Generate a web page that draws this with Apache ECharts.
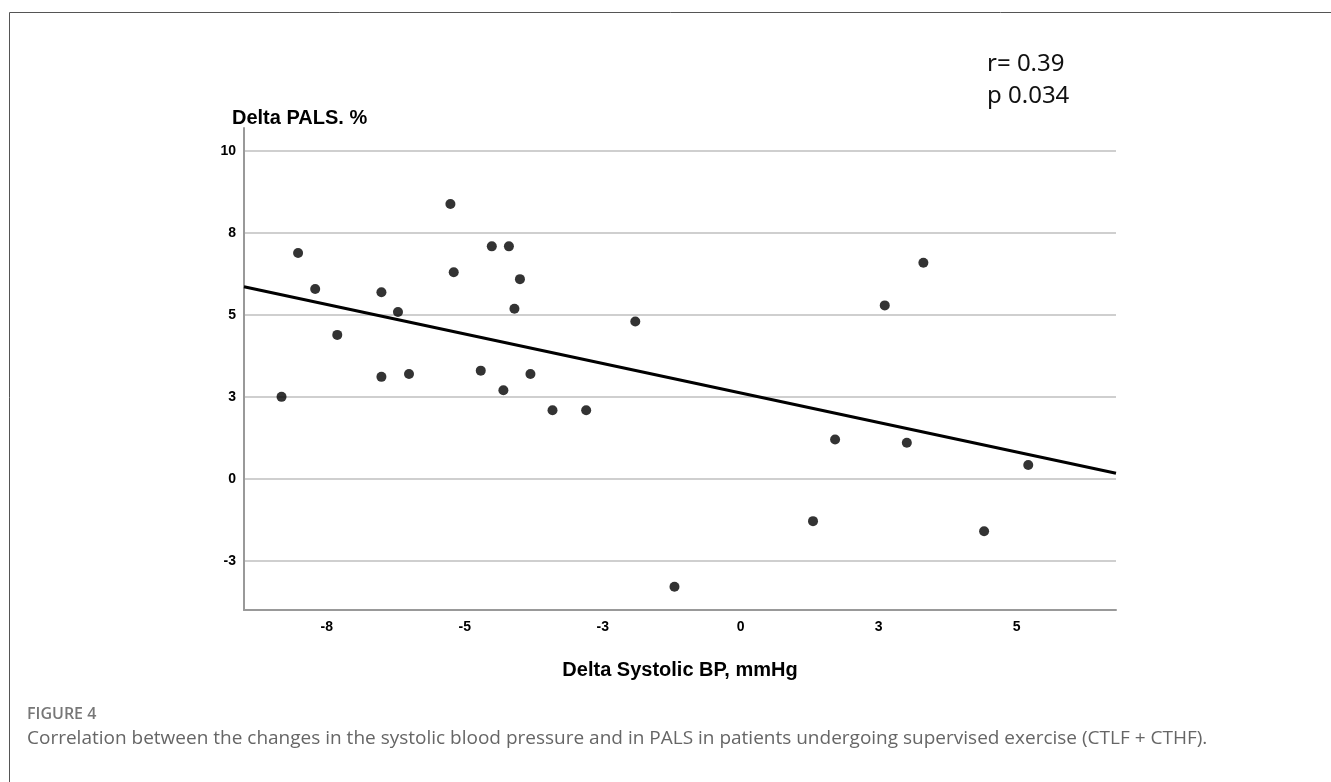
<!DOCTYPE html>
<html>
<head>
<meta charset="utf-8">
<script src="https://cdn.jsdelivr.net/npm/echarts@6/dist/echarts.min.js"></script>
<style>
  html, body { margin: 0; padding: 0; background: #fff; }
  #chart { width: 1331px; height: 782px; }
</style>
</head>
<body>
<div id="chart"></div>
<script>
// delta systolic BP (mmHg) vs delta PALS (%)
const systolicDelta = [-8.02, -7.71, -7.31, -6.51, -6.21, -5.26, -5.20, -4.51, -4.20, -4.00, -4.10, -1.91,
    -8.32, -6.51, -6.01, -4.71, -4.30, -3.81, -3.41, -2.80, -1.20,
    3.31, 2.61, 1.71, 3.01, 5.21, 1.31, 4.41];
const palsDelta = [6.89, 5.79, 4.39, 5.69, 5.09, 8.38, 6.30, 7.09, 7.09, 6.09, 5.19, 4.80,
    2.50, 3.11, 3.20, 3.30, 2.70, 3.20, 2.09, 2.09, -3.29,
    6.59, 5.29, 1.20, 1.10, 0.42, -1.29, -1.60];
// fitted line end points
const fitX = [-9, 6.8];
const fitY = [5.86, 0.17];

const xTickValues = [-7.5, -5, -2.5, 0, 2.5, 5];
const xTickLabels = ['-8', '-5', '-3', '0', '3', '5'];
const yTickValues = [-2.5, 0, 2.5, 5, 7.5, 10];
const yTickLabels = ['-3', '0', '3', '5', '8', '10'];

const statLines = ['r= 0.39', 'p 0.034'];

const points = systolicDelta.map((x, i) => [x, palsDelta[i]]);
const fitLine = fitX.map((x, i) => [x, fitY[i]]);

const chart = echarts.init(document.getElementById('chart'));

const boldFont = '"Liberation Sans", Arial, sans-serif';

const option = {
    animation: false,
    grid: { left: 244, right: 215, top: 128, bottom: 172, containLabel: false },
    xAxis: {
        type: 'value',
        min: -9,
        max: 6.8,
        name: 'Delta Systolic BP, mmHg',
        nameLocation: 'middle',
        nameGap: 50,
        nameTextStyle: { fontFamily: boldFont, fontWeight: 'bold', fontSize: 20, color: '#000' },
        axisLine: { show: true, onZero: false, lineStyle: { color: '#999', width: 2 } },
        axisTick: { show: false, customValues: xTickValues },
        axisLabel: {
            customValues: xTickValues,
            margin: 10,
            fontFamily: boldFont, fontWeight: 'bold', fontSize: 14, color: '#000',
            formatter: v => xTickLabels[xTickValues.indexOf(v)]
        },
        splitLine: { show: false }
    },
    yAxis: {
        type: 'value',
        min: -4,
        max: 10.7,
        axisLine: { show: true, onZero: false, lineStyle: { color: '#999', width: 2 } },
        axisTick: { show: false, customValues: yTickValues },
        axisLabel: {
            customValues: yTickValues,
            margin: 8,
            fontFamily: boldFont, fontWeight: 'bold', fontSize: 14, color: '#000',
            formatter: v => yTickLabels[yTickValues.indexOf(v)]
        },
        splitLine: { show: true, lineStyle: { color: '#cfcfcf', width: 2 } }
    },
    graphic: [
        { type: 'line', shape: { x1: 9.5, y1: 12.5, x2: 1331, y2: 12.5 }, style: { stroke: '#555', lineWidth: 1 } },
        { type: 'line', shape: { x1: 9.5, y1: 12.5, x2: 9.5, y2: 782 }, style: { stroke: '#555', lineWidth: 1 } },
        {
            type: 'text', left: 232, top: 108,
            style: { text: 'Delta PALS. %', font: 'bold 20px ' + boldFont, fill: '#000' }
        },
        {
            type: 'text', left: 987, top: 48,
            style: { text: statLines.join('\n'), font: '24px "Noto Sans", sans-serif', lineHeight: 32, fill: '#111' }
        },
        {
            type: 'text', left: 27, top: 706,
            style: { text: 'FIGURE 4', font: '600 16px "Open Sans", sans-serif', fill: '#777' }
        },
        {
            type: 'text', left: 27, top: 729,
            style: {
                text: 'Correlation between the changes in the systolic blood pressure and in PALS in patients undergoing supervised exercise (CTLF + CTHF).',
                font: '19px "Open Sans", sans-serif', fill: '#666'
            }
        }
    ],
    series: [
        {
            type: 'line',
            data: fitLine,
            symbol: 'none',
            lineStyle: { color: '#000', width: 3 },
            z: 2
        },
        {
            type: 'scatter',
            data: points,
            symbol: 'circle',
            symbolSize: 10,
            itemStyle: { color: '#000' },
            z: 3
        }
    ]
};

chart.setOption(option);
</script>
</body>
</html>
